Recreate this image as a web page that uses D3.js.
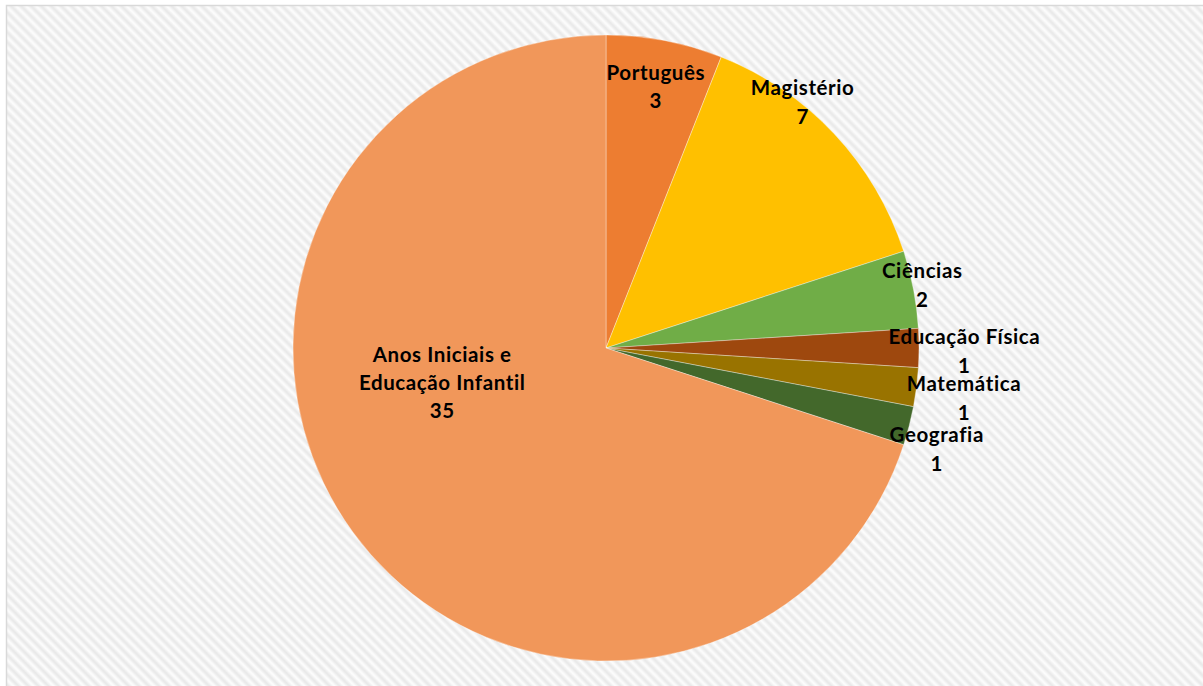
<!DOCTYPE html>
<html><head><meta charset="utf-8">
<script src="https://cdn.jsdelivr.net/npm/d3@7"></script>
<style>html,body{margin:0;padding:0;background:#fff;}svg{display:block;}</style>
</head><body>
<svg id="chart" width="1203" height="686"></svg>
<script>
// ---- data ----
const categories = ["Português","Magistério","Ciências","Educação Física","Matemática","Geografia","Anos Iniciais e\nEducação Infantil"];
const values = [3,7,2,1,1,1,35];
const colors = ["#ED7D31","#FFC000","#70AD47","#9E480E","#997300","#43682B","#F1975A"];

// ---- layout (label placement: polar angle in degrees, radius factor) ----
const W = 1203, H = 686;
const cx = 606, cy = 348, R = 313;
const labelPlacement = [
  {a:10.8, r:0.85},
  {a:38.7, r:1.005},
  {a:78.8, r:1.03},
  {a:90.5, r:1.145},
  {a:98.0, r:1.155},
  {a:107.0, r:1.105},
  {a:258.0, r:0.535}
];

const svg = d3.select("#chart");
const defs = svg.append("defs");
const grad = defs.append("linearGradient").attr("id","sg").attr("x1","0").attr("x2","1").attr("y1","0").attr("y2","0");
grad.append("stop").attr("offset","0").attr("stop-color","#fefefe");
grad.append("stop").attr("offset","0.5").attr("stop-color","#e7e7e7");
grad.append("stop").attr("offset","1").attr("stop-color","#fefefe");
const pat = defs.append("pattern").attr("id","stripes").attr("patternUnits","userSpaceOnUse")
  .attr("width",7.1).attr("height",7.1).attr("patternTransform","rotate(-45)");
pat.append("rect").attr("width",7.1).attr("height",7.1).attr("fill","url(#sg)");

svg.append("rect").attr("x",6.5).attr("y",5.5).attr("width",W).attr("height",H)
  .attr("fill","url(#stripes)").attr("stroke","#d9d9d9").attr("stroke-width",1.5);

const pie = d3.pie().sort(null).value(d=>d.v);
const data = categories.map((c,i)=>({c, v:values[i], col:colors[i], lp:labelPlacement[i]}));
const arcs = pie(data);
const arc = d3.arc().innerRadius(0).outerRadius(R);

const g = svg.append("g").attr("transform",`translate(${cx},${cy})`);
g.selectAll("path").data(arcs).join("path")
  .attr("d",arc).attr("fill",d=>d.data.col)
  .attr("stroke","rgba(255,255,255,0.35)").attr("stroke-width",1);

const lineH = 28.5;
const labels = g.selectAll("text.lbl").data(arcs).join("text").attr("class","lbl")
  .attr("font-family","Lato, 'Open Sans', sans-serif").attr("font-weight","bold")
  .attr("font-size",20.5).attr("letter-spacing",0.6).attr("fill","#000").attr("text-anchor","middle");
labels.each(function(d){
  const a = d.data.lp.a*Math.PI/180, rr = d.data.lp.r*R;
  const x = rr*Math.sin(a), y = -rr*Math.cos(a);
  const lines = d.data.c.split("\n").concat([String(d.data.v)]);
  const t = d3.select(this);
  const y0 = y - (lines.length-1)*lineH/2;
  lines.forEach((ln,i)=>{
    t.append("tspan").attr("x",x).attr("y",y0+i*lineH).attr("dy","0.35em").text(ln);
  });
});
</script>
</body></html>
